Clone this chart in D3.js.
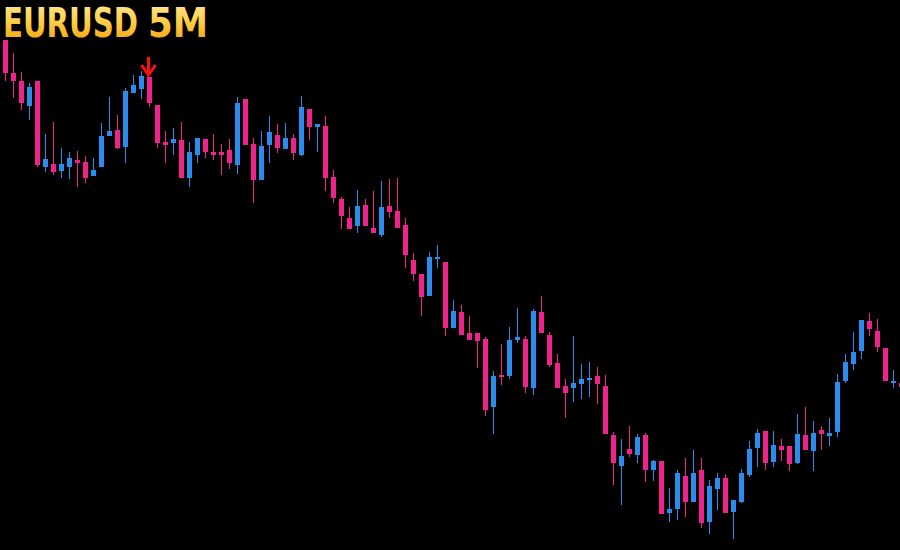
<!DOCTYPE html>
<html>
<head>
<meta charset="utf-8">
<script src="https://cdn.jsdelivr.net/npm/d3@7"></script>
<style>
	html, body { margin: 0; padding: 0; background: #000; }
	svg { display: block; }
</style>
</head>
<body>
<div id="chart"></div>
<script>

//****************************************************************************************************************************//
// Data (EURUSD, 5 minute candles)

var symbol = "EURUSD";
var timeframe = "5M";

var opens = [
	1.08600,1.08567,1.08559,1.08534,1.08559,1.08473,1.08476,1.08469,1.08473,1.08480,
	1.08478,1.08464,1.08473,1.08504,1.08510,1.08493,1.08547,1.08551,1.08563,1.08535,
	1.08498,1.08497,1.08500,1.08462,1.08485,1.08501,1.08488,1.08488,1.08490,1.08475,
	1.08541,1.08496,1.08460,1.08495,1.08505,1.08491,1.08502,1.08485,1.08531,1.08513,
	1.08514,1.08463,1.08441,1.08422,1.08414,1.08435,1.08412,1.08405,1.08434,1.08429,
	1.08415,1.08380,1.08366,1.08344,1.08381,1.08378,1.08312,1.08328,1.08307,1.08307,
	1.08301,1.08233,1.08265,1.08264,1.08300,1.08301,1.08252,1.08328,1.08305,1.08277,
	1.08254,1.08252,1.08256,1.08260,1.08264,1.08254,1.08205,1.08174,1.08191,1.08185,
	1.08205,1.08170,1.08179,1.08127,1.08131,1.08164,1.08138,1.08170,1.08118,1.08151,
	1.08162,1.08128,1.08138,1.08165,1.08192,1.08209,1.08178,1.08194,1.08194,1.08177,
	1.08205,1.08189,1.08210,1.08204,1.08208,1.08259,1.08276,1.08289,1.08319,1.08309,
	1.08292,1.08257,1.08257
];

var highs = [
	1.08600,1.08587,1.08568,1.08557,1.08559,1.08506,1.08518,1.08492,1.08488,1.08489,
	1.08484,1.08482,1.08517,1.08543,1.08525,1.08552,1.08565,1.08569,1.08563,1.08535,
	1.08509,1.08512,1.08518,1.08498,1.08502,1.08501,1.08506,1.08496,1.08501,1.08543,
	1.08541,1.08502,1.08509,1.08524,1.08516,1.08517,1.08506,1.08544,1.08531,1.08516,
	1.08524,1.08470,1.08443,1.08433,1.08450,1.08441,1.08449,1.08459,1.08461,1.08462,
	1.08422,1.08387,1.08366,1.08388,1.08395,1.08378,1.08340,1.08335,1.08324,1.08307,
	1.08303,1.08269,1.08296,1.08313,1.08332,1.08304,1.08331,1.08344,1.08308,1.08286,
	1.08261,1.08304,1.08276,1.08278,1.08273,1.08265,1.08208,1.08201,1.08214,1.08206,
	1.08207,1.08180,1.08179,1.08152,1.08170,1.08182,1.08190,1.08182,1.08160,1.08167,
	1.08166,1.08140,1.08171,1.08199,1.08211,1.08209,1.08209,1.08201,1.08194,1.08226,
	1.08233,1.08219,1.08214,1.08222,1.08266,1.08286,1.08308,1.08320,1.08327,1.08321,
	1.08292,1.08270,1.08257
];

var lows = [
	1.08559,1.08542,1.08530,1.08520,1.08473,1.08468,1.08465,1.08462,1.08461,1.08453,
	1.08457,1.08464,1.08473,1.08504,1.08491,1.08477,1.08547,1.08541,1.08533,1.08492,
	1.08477,1.08485,1.08462,1.08453,1.08477,1.08482,1.08480,1.08465,1.08471,1.08466,
	1.08495,1.08437,1.08460,1.08477,1.08487,1.08491,1.08480,1.08484,1.08500,1.08488,
	1.08449,1.08437,1.08411,1.08411,1.08407,1.08414,1.08407,1.08403,1.08422,1.08412,
	1.08372,1.08359,1.08324,1.08344,1.08372,1.08304,1.08312,1.08305,1.08300,1.08272,
	1.08224,1.08206,1.08255,1.08261,1.08297,1.08247,1.08245,1.08307,1.08273,1.08252,
	1.08222,1.08238,1.08241,1.08243,1.08236,1.08206,1.08155,1.08135,1.08183,1.08177,
	1.08158,1.08159,1.08126,1.08118,1.08120,1.08123,1.08138,1.08112,1.08106,1.08130,
	1.08127,1.08101,1.08137,1.08163,1.08173,1.08170,1.08173,1.08179,1.08169,1.08176,
	1.08190,1.08169,1.08190,1.08194,1.08203,1.08257,1.08270,1.08281,1.08304,1.08288,
	1.08259,1.08252,1.08253
];

var closes = [
	1.08567,1.08559,1.08537,1.08553,1.08475,1.08481,1.08468,1.08476,1.08482,1.08477,
	1.08462,1.08470,1.08504,1.08509,1.08492,1.08549,1.08555,1.08564,1.08537,1.08497,
	1.08495,1.08501,1.08462,1.08488,1.08502,1.08488,1.08485,1.08485,1.08477,1.08537,
	1.08495,1.08460,1.08494,1.08508,1.08492,1.08502,1.08487,1.08533,1.08513,1.08516,
	1.08462,1.08442,1.08424,1.08411,1.08434,1.08414,1.08407,1.08433,1.08428,1.08412,
	1.08385,1.08366,1.08343,1.08383,1.08383,1.08312,1.08329,1.08305,1.08300,1.08299,
	1.08230,1.08264,1.08263,1.08300,1.08303,1.08253,1.08329,1.08307,1.08275,1.08252,
	1.08247,1.08257,1.08261,1.08262,1.08256,1.08206,1.08177,1.08184,1.08186,1.08203,
	1.08170,1.08179,1.08126,1.08131,1.08167,1.08138,1.08167,1.08117,1.08154,1.08162,
	1.08127,1.08140,1.08167,1.08191,1.08207,1.08177,1.08195,1.08190,1.08176,1.08206,
	1.08190,1.08207,1.08206,1.08207,1.08258,1.08278,1.08288,1.08320,1.08311,1.08293,
	1.08259,1.08259,1.08253
];

// sell signal arrows (candle index)
var sellSignals = [18];

//****************************************************************************************************************************//
// Setup

var width = 900;
var height = 550;

var bullColor = "#2b8cf0";
var bearColor = "#f2228c";
var signalColor = "#ff1010";

var candles = opens.map(function(o, i){
	return { i : i, open : o, high : highs[i], low : lows[i], close : closes[i] };
});

var canvas = d3.select("#chart").append("svg")
				.attr("width", width)
				.attr("height", height)
				.style("background", "#000");

var xScale = d3.scaleLinear()
				.domain([0, candles.length - 1])
				.range([5, 5 + 8*(candles.length - 1)]);

var yScale = d3.scaleLinear()
				.domain([1.08100, 1.08600])
				.range([540, 40]);

var bodyWidth = 5;

//****************************************************************************************************************************//
// Candles

var candle_Group = canvas.append("g");

var candle = candle_Group.selectAll("g.candle")
				.data(candles)
				.enter()
				.append("g")
				.attr("class", "candle");

candle.append("line")
		.attr("x1", function(d){ return xScale(d.i) + 0.5; })
		.attr("x2", function(d){ return xScale(d.i) + 0.5; })
		.attr("y1", function(d){ return yScale(d.high); })
		.attr("y2", function(d){ return yScale(d.low); })
		.attr("stroke", function(d){ return d.close >= d.open ? bullColor : bearColor; })
		.attr("stroke-width", 1);

candle.append("rect")
		.attr("x", function(d){ return xScale(d.i) - (bodyWidth - 1)/2; })
		.attr("y", function(d){ return yScale(Math.max(d.open, d.close)); })
		.attr("width", bodyWidth)
		.attr("height", function(d){ return Math.max(2, Math.abs(yScale(d.open) - yScale(d.close))); })
		.attr("fill", function(d){ return d.close >= d.open ? bullColor : bearColor; });

//****************************************************************************************************************************//
// Signal arrows

canvas.append("g")
		.selectAll("path")
		.data(sellSignals)
		.enter()
		.append("path")
		.attr("d", function(i){
			var x = xScale(i) - 0.5;
			var tip = yScale(candles[i].high) - 2;
			return "M" + x + "," + (tip - 18) + "V" + tip +
				"M" + (x - 7) + "," + (tip - 10) + "L" + x + "," + tip + "L" + (x + 7) + "," + (tip - 10);
		})
		.attr("fill", "none")
		.attr("stroke", signalColor)
		.attr("stroke-width", 3)
		.attr("stroke-linejoin", "miter");

//****************************************************************************************************************************//
// Title

var defs = canvas.append("defs");
var gold = defs.append("linearGradient")
				.attr("id", "goldFill")
				.attr("x1", 0).attr("y1", 0)
				.attr("x2", 0).attr("y2", 1);
gold.append("stop").attr("offset", "0%").attr("stop-color", "#ffeaa0");
gold.append("stop").attr("offset", "45%").attr("stop-color", "#ffd04a");
gold.append("stop").attr("offset", "100%").attr("stop-color", "#f29a00");

var titleParts = [
	{ text : symbol, x : 3, len : 135 },
	{ text : timeframe, x : 148, len : 60 }
];

canvas.append("g")
		.selectAll("text")
		.data(titleParts)
		.enter()
		.append("text")
		.attr("x", function(d){ return d.x; })
		.attr("y", 37)
		.attr("textLength", function(d){ return d.len; })
		.attr("lengthAdjust", "spacingAndGlyphs")
		.style("font-family", "'Liberation Sans Narrow', 'DejaVu Sans Condensed', 'Roboto', sans-serif")
		.style("font-weight", "bold")
		.style("font-size", "41px")
		.attr("fill", "url(#goldFill)")
		.text(function(d){ return d.text; });

</script>
</body>
</html>
